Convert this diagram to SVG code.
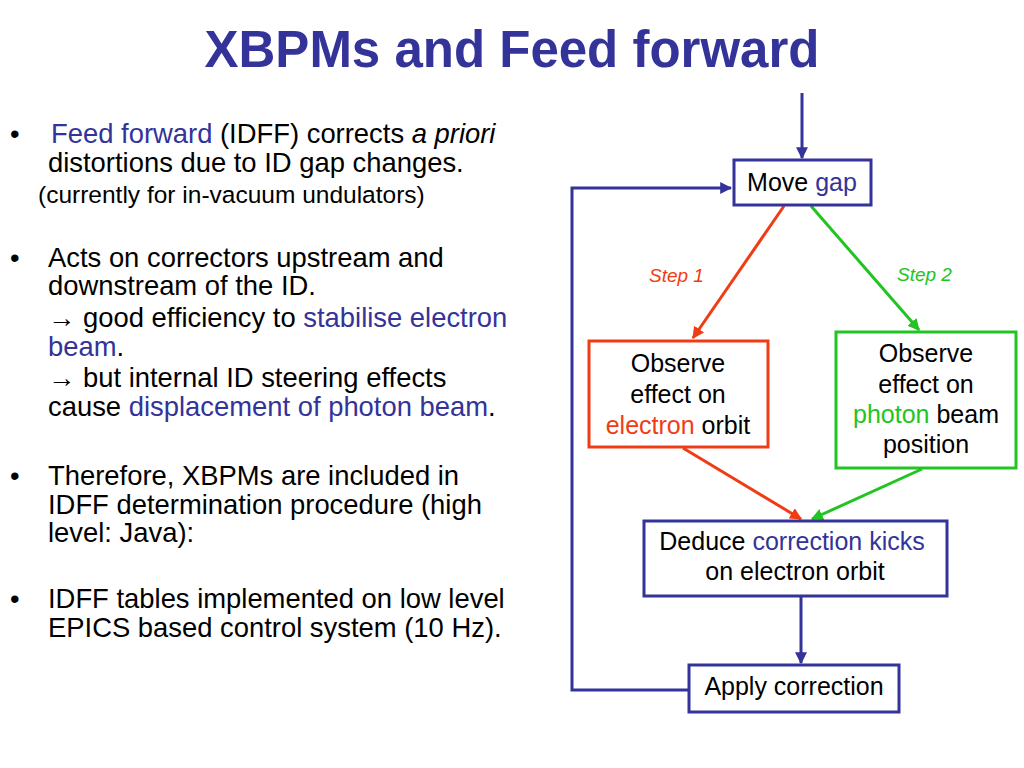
<svg xmlns="http://www.w3.org/2000/svg" width="1024" height="768" viewBox="0 0 1024 768">
<style>
text{font-family:"Liberation Sans",Arial,sans-serif;fill:#000}
.t{font-size:27.4px}
.s{font-size:24.5px}
.b{font-size:25px}
.blue{fill:#333399}
.red{fill:#f03c14}
.grn{fill:#22c422}
.box{fill:#fff;stroke-width:3}
.cb{stroke:#333399;stroke-width:3;fill:none}
</style>
<defs>
<marker id="ab" viewBox="0 0 10 10" refX="9" refY="5" markerWidth="4" markerHeight="4" orient="auto" markerUnits="strokeWidth"><path d="M0,0L10,5L0,10z" fill="#333399"/></marker>
<marker id="ar" viewBox="0 0 10 10" refX="9" refY="5" markerWidth="4" markerHeight="4" orient="auto" markerUnits="strokeWidth"><path d="M0,0L10,5L0,10z" fill="#f03c14"/></marker>
<marker id="ag" viewBox="0 0 10 10" refX="9" refY="5" markerWidth="4" markerHeight="4" orient="auto" markerUnits="strokeWidth"><path d="M0,0L10,5L0,10z" fill="#22c422"/></marker>
</defs>
<rect width="1024" height="768" fill="#fff"/>
<text x="512" y="67" text-anchor="middle" font-size="51" font-weight="bold" style="fill:#333399">XBPMs and Feed forward</text>

<g id="bullets">
<text class="t" x="10" y="143">•</text>
<text class="t"><tspan x="51" y="143"><tspan class="blue">Feed forward</tspan> (IDFF) corrects <tspan font-style="italic">a priori</tspan></tspan><tspan x="48" y="172">distortions due to ID gap changes.</tspan></text>
<text class="s" x="38" y="203">(currently for in-vacuum undulators)</text>
<text class="t" x="10" y="267">•</text>
<text class="t"><tspan x="48" y="267">Acts on correctors upstream and</tspan><tspan x="48" y="295">downstream of the ID.</tspan><tspan x="48" y="327">→ good efficiency to <tspan class="blue">stabilise electron</tspan></tspan><tspan x="48" y="356"><tspan class="blue">beam</tspan>.</tspan><tspan x="48" y="387">→ but internal ID steering effects</tspan><tspan x="48" y="416">cause <tspan class="blue">displacement of photon beam</tspan>.</tspan></text>
<text class="t" x="10" y="485">•</text>
<text class="t"><tspan x="48" y="485">Therefore, XBPMs are included in</tspan><tspan x="48" y="514">IDFF determination procedure (high</tspan><tspan x="48" y="542">level: Java):</tspan></text>
<text class="t" x="10" y="608">•</text>
<text class="t"><tspan x="48" y="608">IDFF tables implemented on low level</tspan><tspan x="48" y="637">EPICS based control system (10 Hz).</tspan></text>
</g>

<g id="connectors">
<line x1="802" y1="93" x2="802" y2="158" class="cb" marker-end="url(#ab)"/>
<polyline points="689,690 572,690 572,188 731,188" class="cb" marker-end="url(#ab)"/>
<line x1="784" y1="206" x2="693" y2="338" stroke="#f03c14" stroke-width="3" marker-end="url(#ar)"/>
<line x1="811" y1="206" x2="919" y2="330" stroke="#22c422" stroke-width="3" marker-end="url(#ag)"/>
<line x1="683" y1="448" x2="801" y2="519" stroke="#f03c14" stroke-width="3" marker-end="url(#ar)"/>
<line x1="922" y1="469" x2="812" y2="519" stroke="#22c422" stroke-width="3" marker-end="url(#ag)"/>
<line x1="801" y1="597" x2="801" y2="663" class="cb" marker-end="url(#ab)"/>
<text x="649" y="282" font-size="19" font-style="italic" class="red">Step 1</text>
<text x="897" y="281" font-size="19" font-style="italic" class="grn">Step 2</text>
</g>

<g id="move-gap">
<rect x="734" y="160" width="137" height="45" class="box" stroke="#333399"/>
<text class="b" x="802" y="191" text-anchor="middle">Move <tspan class="blue">gap</tspan></text>
</g>

<g id="observe-electron">
<rect x="589" y="341" width="179" height="106" class="box" stroke="#f03c14"/>
<text class="b" text-anchor="middle"><tspan x="678" y="372">Observe</tspan><tspan x="678" y="403">effect on</tspan><tspan x="678" y="434"><tspan class="red">electron</tspan> orbit</tspan></text>
</g>

<g id="observe-photon">
<rect x="836" y="332" width="180" height="136" class="box" stroke="#22c422"/>
<text class="b" text-anchor="middle"><tspan x="926" y="362">Observe</tspan><tspan x="926" y="393">effect on</tspan><tspan x="926" y="423"><tspan class="grn">photon</tspan> beam</tspan><tspan x="926" y="453">position</tspan></text>
</g>

<g id="deduce">
<rect x="644" y="521" width="303" height="75" class="box" stroke="#333399"/>
<text class="b" text-anchor="middle"><tspan x="792" y="550">Deduce <tspan class="blue">correction kicks</tspan></tspan><tspan x="795" y="580">on electron orbit</tspan></text>
</g>

<g id="apply">
<rect x="689" y="665" width="210" height="47" class="box" stroke="#333399"/>
<text class="b" x="794" y="695" text-anchor="middle">Apply correction</text>
</g>
</svg>
